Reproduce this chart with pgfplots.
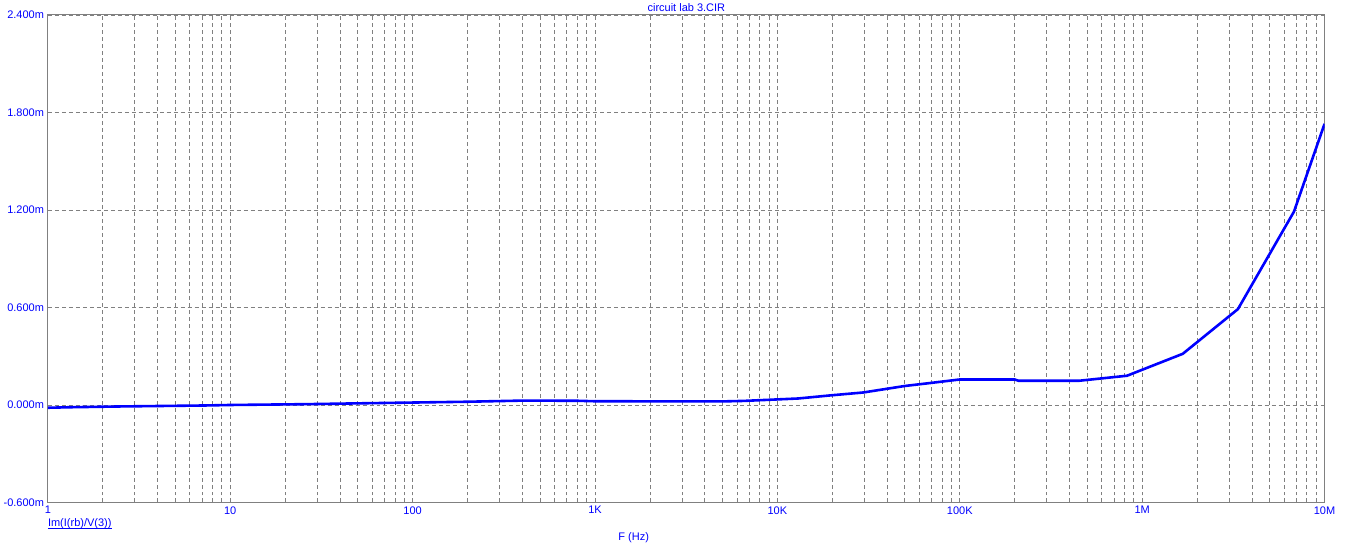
\documentclass[border=0pt]{standalone}
\usepackage{fontspec}
\setmainfont{Liberation Sans}
\usepackage{pgfplots}
\pgfplotsset{compat=1.18}
\definecolor{gridgray}{RGB}{128,128,128}
\definecolor{sblue}{RGB}{0,0,255}
\begin{document}
\fontsize{11}{13}\selectfont
\begin{tikzpicture}[x=1pt,y=1pt]
\path (0,0) rectangle (1353,550);
\begin{axis}[
  at={(46.5pt,47pt)}, anchor=south west,
  scale only axis, width=1278pt, height=488pt,
  xmode=log, xmin=1, xmax=1e7, ymin=-0.6, ymax=2.4,
  xtick={1,10,100,1000,10000,100000,1000000,10000000},
  xticklabels={1,10,100,1K,10K,100K,1M,10M},
  ytick={-0.6,0,0.6,1.2,1.8,2.4},
  yticklabels={-0.600m,0.000m,0.600m,1.200m,1.800m,2.400m},
  major tick length=0pt, minor tick length=0pt,
  xmajorgrids, xminorgrids, ymajorgrids,
  major grid style={gridgray, line width=0.8pt, dash pattern=on 4pt off 3pt},
  minor grid style={gridgray, line width=0.8pt, dash pattern=on 4pt off 3pt},
  axis line style={gridgray, line width=1pt},
  tick label style={text=sblue, font=\fontsize{11}{13}\selectfont},
  clip=true,
]
\addplot[sblue, line width=2.6pt, line join=round] coordinates {
(1,-0.017) (1.3,-0.014) (2.5,-0.009) (7.3,-0.003) (10,0.0) (26,0.005)
(50,0.010) (100,0.015) (200,0.020) (400,0.027) (800,0.026) (1000,0.023)
(5000,0.022) (6500,0.025) (9000,0.032) (13000,0.040) (19500,0.059)
(29600,0.077) (50000,0.117) (71000,0.137) (100000,0.157) (200000,0.157)
(210000,0.149) (450000,0.149) (826000,0.180) (1670000,0.315)
(3350000,0.590) (6800000,1.190) (10000000,1.730)
};
\end{axis}
\node[text=sblue, inner sep=0, anchor=base] at (685.7,538.7) {circuit lab 3.CIR};
\node[text=sblue, inner sep=0, anchor=base] at (633,8.5) {F (Hz)};
\node[text=sblue, inner sep=0, anchor=base west] (lbl) at (46.5,22.7) {Im(I(rb)/V(3))};
\draw[sblue, line width=0.8pt] ([yshift=-1.4pt]lbl.base west) -- ([yshift=-1.4pt]lbl.base east);
\end{tikzpicture}
\end{document}
